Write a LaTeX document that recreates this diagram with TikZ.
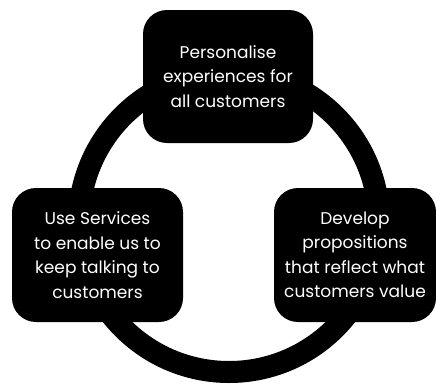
\documentclass[tikz,border=0pt]{standalone}
\usepackage{fontspec}
\setmainfont{Poppins}
\usepackage{tikz}

\tikzset{
  stagebox/.style = {fill=black, rounded corners=24pt, text=white, align=center,
    inner sep=0pt, font=\fontsize{17}{24.5}\selectfont}
}

\begin{document}
\begin{tikzpicture}[x=1pt, y=-1pt]
\useasboundingbox (0,0) rectangle (436,383);
\draw [black, line width=22pt] (229,222) circle [radius=150];
\node [stagebox, minimum width=170pt, minimum height=133pt] (personalise) at (228,76.5)
  {Personalise\\experiences for\\all customers};
\node [stagebox, minimum width=171pt, minimum height=134pt] (services) at (97.5,255)
  {Use Services\\to enable us to\\keep talking to\\customers};
\node [stagebox, minimum width=162pt, minimum height=134pt] (propositions) at (355,255)
  {Develop\\propositions\\that reflect what\\customers value};
\end{tikzpicture}
\end{document}
